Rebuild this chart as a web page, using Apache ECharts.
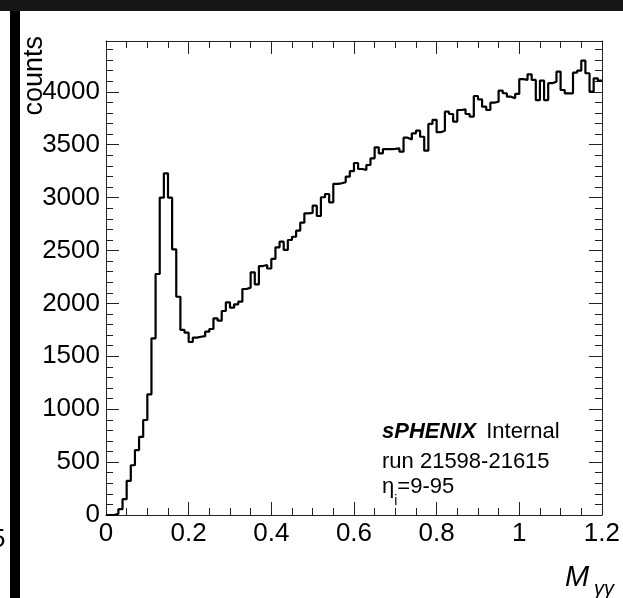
<!DOCTYPE html>
<html><head><meta charset="utf-8">
<script src="https://cdn.jsdelivr.net/npm/echarts@6/dist/echarts.min.js"></script>
<style>html,body{margin:0;padding:0;background:#fff}#c{width:623px;height:598px}</style>
</head><body><div id="c"></div>
<script>
// histogram: 120 bins of width 0.01 from 0 to 1.2
const binLow = 0.0;
const binWidth = 0.01;
const counts = [
  0, 0, 12, 55, 150, 322, 470, 614, 738, 898,
  1141, 1670, 2278, 2999, 3229, 2999, 2511, 2063, 1749, 1723,
  1635, 1676, 1685, 1690, 1733, 1758, 1859, 1837, 1928, 2010,
  1960, 1991, 2016, 2136, 2149, 2294, 2180, 2353, 2363, 2330,
  2420, 2530, 2583, 2505, 2599, 2630, 2687, 2763, 2851, 2855,
  2924, 2826, 3003, 3034, 2955, 3130, 3135, 3145, 3198, 3250,
  3327, 3270, 3261, 3308, 3371, 3475, 3418, 3459, 3459, 3460,
  3465, 3434, 3566, 3550, 3607, 3632, 3575, 3443, 3696, 3735,
  3618, 3632, 3812, 3790, 3718, 3828, 3834, 3790, 3765, 3960,
  3929, 3859, 3828, 3897, 3906, 4011, 3986, 3954, 3938, 3980,
  4120, 4112, 4165, 4112, 3922, 4106, 3922, 4081, 4096, 4190,
  4017, 3985, 3985, 4181, 4200, 4294, 4175, 4001, 4127, 4106
];
const xMin = 0, xMax = 1.2, xMajor = 0.2;
const yMin = 0, yMax = 4480, yMajor = 500;
const yTitle = 'counts';
const xTitle = 'M';
const xTitleSub = 'γγ';
const textLines = ['sPHENIX', 'Internal', 'run 21598-21615', 'η', 'i', '=9-95'];

const pts = counts.map((v, i) => [+(binLow + i * binWidth).toFixed(2), v]);
pts.push([xMax, counts[counts.length - 1]]);

const FONT = 'Liberation Sans';
const frameColor = '#222';

function xAxisDef(pos, showLabel) {
  return {
    type: 'value', position: pos, min: xMin, max: xMax, interval: xMajor,
    axisLine: { show: true, onZero: false, lineStyle: { color: frameColor, width: 1 } },
    axisTick: { show: true, inside: true, length: 13, lineStyle: { color: frameColor } },
    minorTick: { show: true, splitNumber: 4, length: 7, lineStyle: { color: frameColor } },
    splitLine: { show: false }, minorSplitLine: { show: false },
    axisLabel: {
      show: showLabel, margin: 6, color: '#000', fontFamily: FONT, fontSize: 26,
      formatter: v => String(+(+v).toFixed(1)), showMaxLabel: true, showMinLabel: true
    }
  };
}
function yAxisDef(pos, showLabel) {
  return {
    type: 'value', position: pos, min: yMin, max: yMax, interval: yMajor,
    axisLine: { show: true, onZero: false, lineStyle: { color: frameColor, width: 1 } },
    axisTick: { show: true, inside: true, length: 13, lineStyle: { color: frameColor } },
    minorTick: { show: true, splitNumber: 5, length: 7, lineStyle: { color: frameColor } },
    splitLine: { show: false }, minorSplitLine: { show: false },
    axisLabel: {
      show: showLabel, margin: 6, color: '#000', fontFamily: FONT, fontSize: 26,
      formatter: v => String(Math.round(v)),
      showMaxLabel: false, showMinLabel: true
    }
  };
}

const chart = echarts.init(document.getElementById('c'), null, { renderer: 'canvas' });
chart.setOption({
  animation: false,
  backgroundColor: '#fff',
  grid: { left: 106, right: 20, top: 41, bottom: 83, containLabel: false },
  xAxis: [xAxisDef('bottom', true), xAxisDef('top', false)],
  yAxis: [yAxisDef('left', true), yAxisDef('right', false)],
  series: [{
    type: 'line', step: 'end', data: pts, xAxisIndex: 0, yAxisIndex: 0,
    symbol: 'none', showSymbol: false, clip: true,
    lineStyle: { color: '#000', width: 2.2 }
  }],
  graphic: [
    { type: 'rect', shape: { x: 0, y: 0, width: 623, height: 11 }, style: { fill: '#161616' }, z: 100 },
    { type: 'rect', shape: { x: 10, y: 11, width: 10, height: 587 }, style: { fill: '#000' }, z: 100 },
    { type: 'text', x: -9, y: 540, style: { text: '5', fontFamily: FONT, fontSize: 26, fill: '#000', textVerticalAlign: 'middle' }, z: 99 },
    { type: 'text', x: 35, y: 36, rotation: Math.PI / 2,
      style: { text: yTitle, fontFamily: FONT, fontSize: 27, fill: '#000', textAlign: 'right', textVerticalAlign: 'middle' }, z: 50 },
    { type: 'text', x: 565, y: 578,
      style: { text: xTitle, fontFamily: FONT, fontSize: 29, fontStyle: 'italic', fill: '#000', textAlign: 'left', textVerticalAlign: 'middle' } },
    { type: 'text', x: 594, y: 589,
      style: { text: xTitleSub, fontFamily: FONT, fontSize: 20, fontStyle: 'italic', fill: '#000', textAlign: 'left', textVerticalAlign: 'middle' } },
    { type: 'text', x: 382, y: 432,
      style: {
        text: '{b|' + textLines[0] + '}{n| ' + textLines[1] + '}',
        textAlign: 'left', textVerticalAlign: 'middle',
        rich: {
          b: { fontFamily: FONT, fontSize: 22, fontWeight: 'bold', fontStyle: 'italic', fill: '#000' },
          n: { fontFamily: FONT, fontSize: 22, fill: '#000', padding: [0, 0, 0, 4] }
        }
      } },
    { type: 'text', x: 382, y: 462,
      style: { text: textLines[2], fontFamily: FONT, fontSize: 22, fill: '#000', textAlign: 'left', textVerticalAlign: 'middle' } },
    { type: 'text', x: 382, y: 487,
      style: {
        text: '{n|' + textLines[3] + '}{s|' + textLines[4] + '}{n|' + textLines[5] + '}',
        textAlign: 'left', textVerticalAlign: 'middle',
        rich: {
          n: { fontFamily: FONT, fontSize: 22, fill: '#000', lineHeight: 26, verticalAlign: 'middle' },
          s: { fontFamily: FONT, fontSize: 14, fill: '#000', lineHeight: 26, verticalAlign: 'bottom', padding: [0, 0, -8, 0] }
        }
      } }
  ]
});
</script></body></html>
